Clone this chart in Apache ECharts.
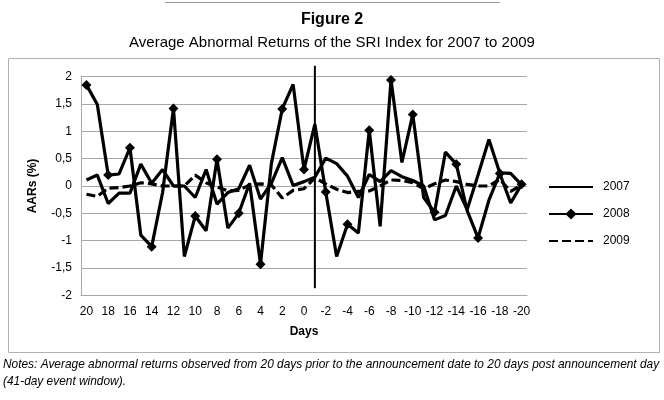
<!DOCTYPE html>
<html><head><meta charset="utf-8">
<script src="https://cdn.jsdelivr.net/npm/echarts@6/dist/echarts.min.js"></script>
<style>html,body{margin:0;padding:0;background:#fff}#c{width:664px;height:400px}</style>
</head><body><div id="c"></div>
<script>
const days = ['20','19','18','17','16','15','14','13','12','11','10','9','8','7','6','5','4','3','2','1','0',
  '-1','-2','-3','-4','-5','-6','-7','-8','-9','-10','-11','-12','-13','-14','-15','-16','-17','-18','-19','-20'];
const aar2007 = [0.11,0.20,-0.32,-0.13,-0.13,0.40,0.05,0.30,0.00,0.00,-0.21,0.30,-0.33,-0.12,-0.05,0.38,-0.24,0.05,0.52,0.01,
  0.08,0.16,0.51,0.41,0.18,-0.21,0.21,0.08,0.28,0.17,0.10,0.00,-0.62,-0.54,0.00,-0.43,0.20,0.85,0.24,0.23,0.02];
const aar2008 = [1.85,1.49,0.20,0.22,0.70,-0.90,-1.11,-0.12,1.42,-1.29,-0.55,-0.82,0.49,-0.77,-0.50,0.05,-1.43,0.41,1.41,1.86,
  0.30,1.13,-0.11,-1.29,-0.70,-0.86,1.02,-0.74,1.94,0.43,1.31,-0.21,-0.48,0.62,0.40,-0.45,-0.95,-0.26,0.23,-0.31,0.03];
const aar2009 = [-0.15,-0.19,-0.04,-0.03,0.00,0.06,0.04,0.00,0.00,0.00,0.20,0.06,-0.02,-0.09,-0.08,0.02,0.04,0.02,-0.22,-0.08,
  -0.05,0.15,0.04,-0.06,-0.12,-0.10,-0.09,0.00,0.11,0.10,0.06,-0.05,0.04,0.11,0.08,0.03,0.00,0.00,0.12,-0.10,0.02];
const seriesNames = ['2007','2008','2009'];
const yTicks = {min: -2, max: 2, interval: 0.5};
const eventLine = {day: '-1', from: 2.2, to: -1.87};
const titleText = 'Figure 2';
const subtitleText = 'Average Abnormal Returns of the SRI Index for 2007 to 2009';
const notesText = ['Notes: Average abnormal returns observed from 20 days prior to the announcement date to 20 days post announcement day',
  '(41-day event window).'];

const FONT = '"Liberation Sans", Arial, sans-serif';
const chart = echarts.init(document.getElementById('c'), null, {renderer: 'canvas'});
const option = {
  animation: false,
  backgroundColor: '#fff',
  textStyle: {fontFamily: FONT, color: '#000'},
  title: [
    {text: titleText, left: 'center', top: 7, textStyle: {fontFamily: FONT, fontSize: 16, fontWeight: 'bold', color: '#000'}},
    {text: subtitleText, left: 'center', top: 30, textStyle: {fontFamily: FONT, fontSize: 15, fontWeight: 'normal', color: '#000'}}
  ],
  grid: {left: 81, right: 137, top: 76.7, bottom: 104.7, containLabel: false},
  legend: {
    orient: 'vertical', left: 548, top: 181, padding: 0, itemWidth: 44, itemHeight: 14, itemGap: 15,
    textStyle: {fontFamily: FONT, fontSize: 12, color: '#000', padding: [0, 0, 0, 5]},
    data: [
      {name: seriesNames[0], itemStyle: {opacity: 0}},
      {name: seriesNames[1]},
      {name: seriesNames[2], itemStyle: {opacity: 0}}
    ]
  },
  xAxis: {
    type: 'category', data: days, boundaryGap: true,
    name: 'Days', nameLocation: 'middle', nameGap: 30,
    nameTextStyle: {fontFamily: FONT, fontSize: 12, fontWeight: 'bold', color: '#000'},
    axisLine: {onZero: false, lineStyle: {color: '#a6a6a6', width: 1}},
    axisTick: {show: false},
    axisLabel: {interval: 1, fontFamily: FONT, fontSize: 12, color: '#000', margin: 10}
  },
  yAxis: {
    type: 'value', min: yTicks.min, max: yTicks.max, interval: yTicks.interval,
    name: 'AARs (%)', nameLocation: 'middle', nameGap: 42,
    nameTextStyle: {fontFamily: FONT, fontSize: 12, fontWeight: 'bold', color: '#000'},
    axisLine: {show: true, lineStyle: {color: '#a6a6a6', width: 1}},
    axisTick: {show: false},
    splitLine: {lineStyle: {color: '#a6a6a6', width: 1}},
    axisLabel: {fontFamily: FONT, fontSize: 12, color: '#000', margin: 9,
      formatter: v => String(v).replace('.', ',')}
  },
  series: [
    {name: seriesNames[0], type: 'line', data: aar2007, symbol: 'none', color: '#000',
      lineStyle: {color: '#000', width: 3.2}, z: 3},
    {name: seriesNames[1], type: 'line', data: aar2008, symbol: 'diamond', symbolSize: 10, color: '#000',
      itemStyle: {color: '#000'}, lineStyle: {color: '#000', width: 3.2}, z: 4},
    {name: seriesNames[2], type: 'line', data: aar2009, symbol: 'none', color: '#000',
      lineStyle: {color: '#000', width: 3.2, type: [9, 4]}, z: 2}
  ]
};
chart.setOption(option);

const p1 = chart.convertToPixel({gridIndex: 0}, [eventLine.day, eventLine.from]);
const p2 = chart.convertToPixel({gridIndex: 0}, [eventLine.day, eventLine.to]);
chart.setOption({
  graphic: [
    {type: 'line', shape: {x1: 165, y1: 2.5, x2: 500, y2: 2.5}, style: {stroke: '#999', lineWidth: 1}},
    {type: 'rect', shape: {x: 8.5, y: 58.5, width: 651, height: 294}, style: {fill: null, stroke: '#b0b0b0', lineWidth: 1}, z: -1},
    {type: 'line', shape: {x1: p1[0], y1: p1[1], x2: p2[0], y2: p2[1]}, style: {stroke: '#000', lineWidth: 2}, z: 10},
    {type: 'text', left: 3, top: 359, style: {text: notesText[0], font: 'italic 11.9px ' + FONT, fill: '#000'}},
    {type: 'text', left: 3, top: 376, style: {text: notesText[1], font: 'italic 11.9px ' + FONT, fill: '#000'}}
  ]
});
</script>
</body></html>
